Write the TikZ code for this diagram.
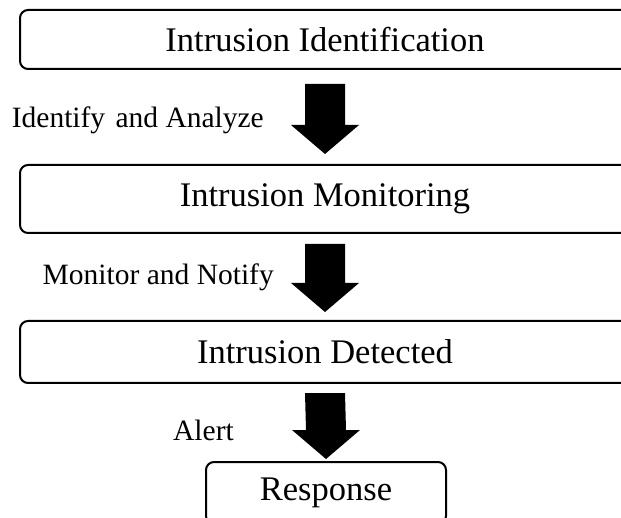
\documentclass[tikz,border=0pt]{standalone}
\usepackage{fontspec}
\setmainfont{Liberation Serif}
\usetikzlibrary{calc}
\newcommand{\myBlockArrow}[4]{
\fill ($(#1.south)+(-20,-#3)$) -- ($(#1.south)+(20,-#3)$)
  -- ($(#2.north)+(20,#4+29)$) -- ($(#2.north)+(34,#4+29)$)
  -- ($(#2.north)+(0,#4)$) -- ($(#2.north)+(-34,#4+29)$)
  -- ($(#2.north)+(-20,#4+29)$) -- cycle;
}
\tikzset{
  stagebox/.style={draw, line width=2pt, rounded corners=8pt, minimum width=610pt,
    minimum height=62pt, inner sep=0pt, font=\fontsize{34.5}{40}\selectfont},
  steplabel/.style={anchor=east, inner sep=0pt, font=\fontsize{29.5}{32}\selectfont}
}
\begin{document}
\begin{tikzpicture}[x=1pt,y=1pt]
	\useasboundingbox (0,0) rectangle (621,-518);
	\clip (0,0) rectangle (621,-518);
	% drawing stage boxes
	\node[stagebox, minimum height=59pt] (ident) at (325,-39.5) {Intrusion Identification};
	\node[stagebox, minimum height=68pt] (monit) at (325,-199) {Intrusion Monitoring};
	\node[stagebox] (detect) at (325,-352) {Intrusion Detected};
	\node[stagebox, minimum width=240pt] (resp) at (326,-493) {Response};
	% drawing block arrows
	\myBlockArrow{ident}{monit}{14}{10}
	\myBlockArrow{monit}{detect}{10}{8}
	\myBlockArrow{detect}{resp}{9}{2}
	% arrow labels
	\node[steplabel] (lblIdent) at (264,-120) {Identify\hspace{0.35em}and Analyze};
	\node[steplabel] (lblMonit) at (274,-277) {Monitor and Notify};
	\node[steplabel] (lblAlert) at (234,-430) {Alert};
\end{tikzpicture}
\end{document}
